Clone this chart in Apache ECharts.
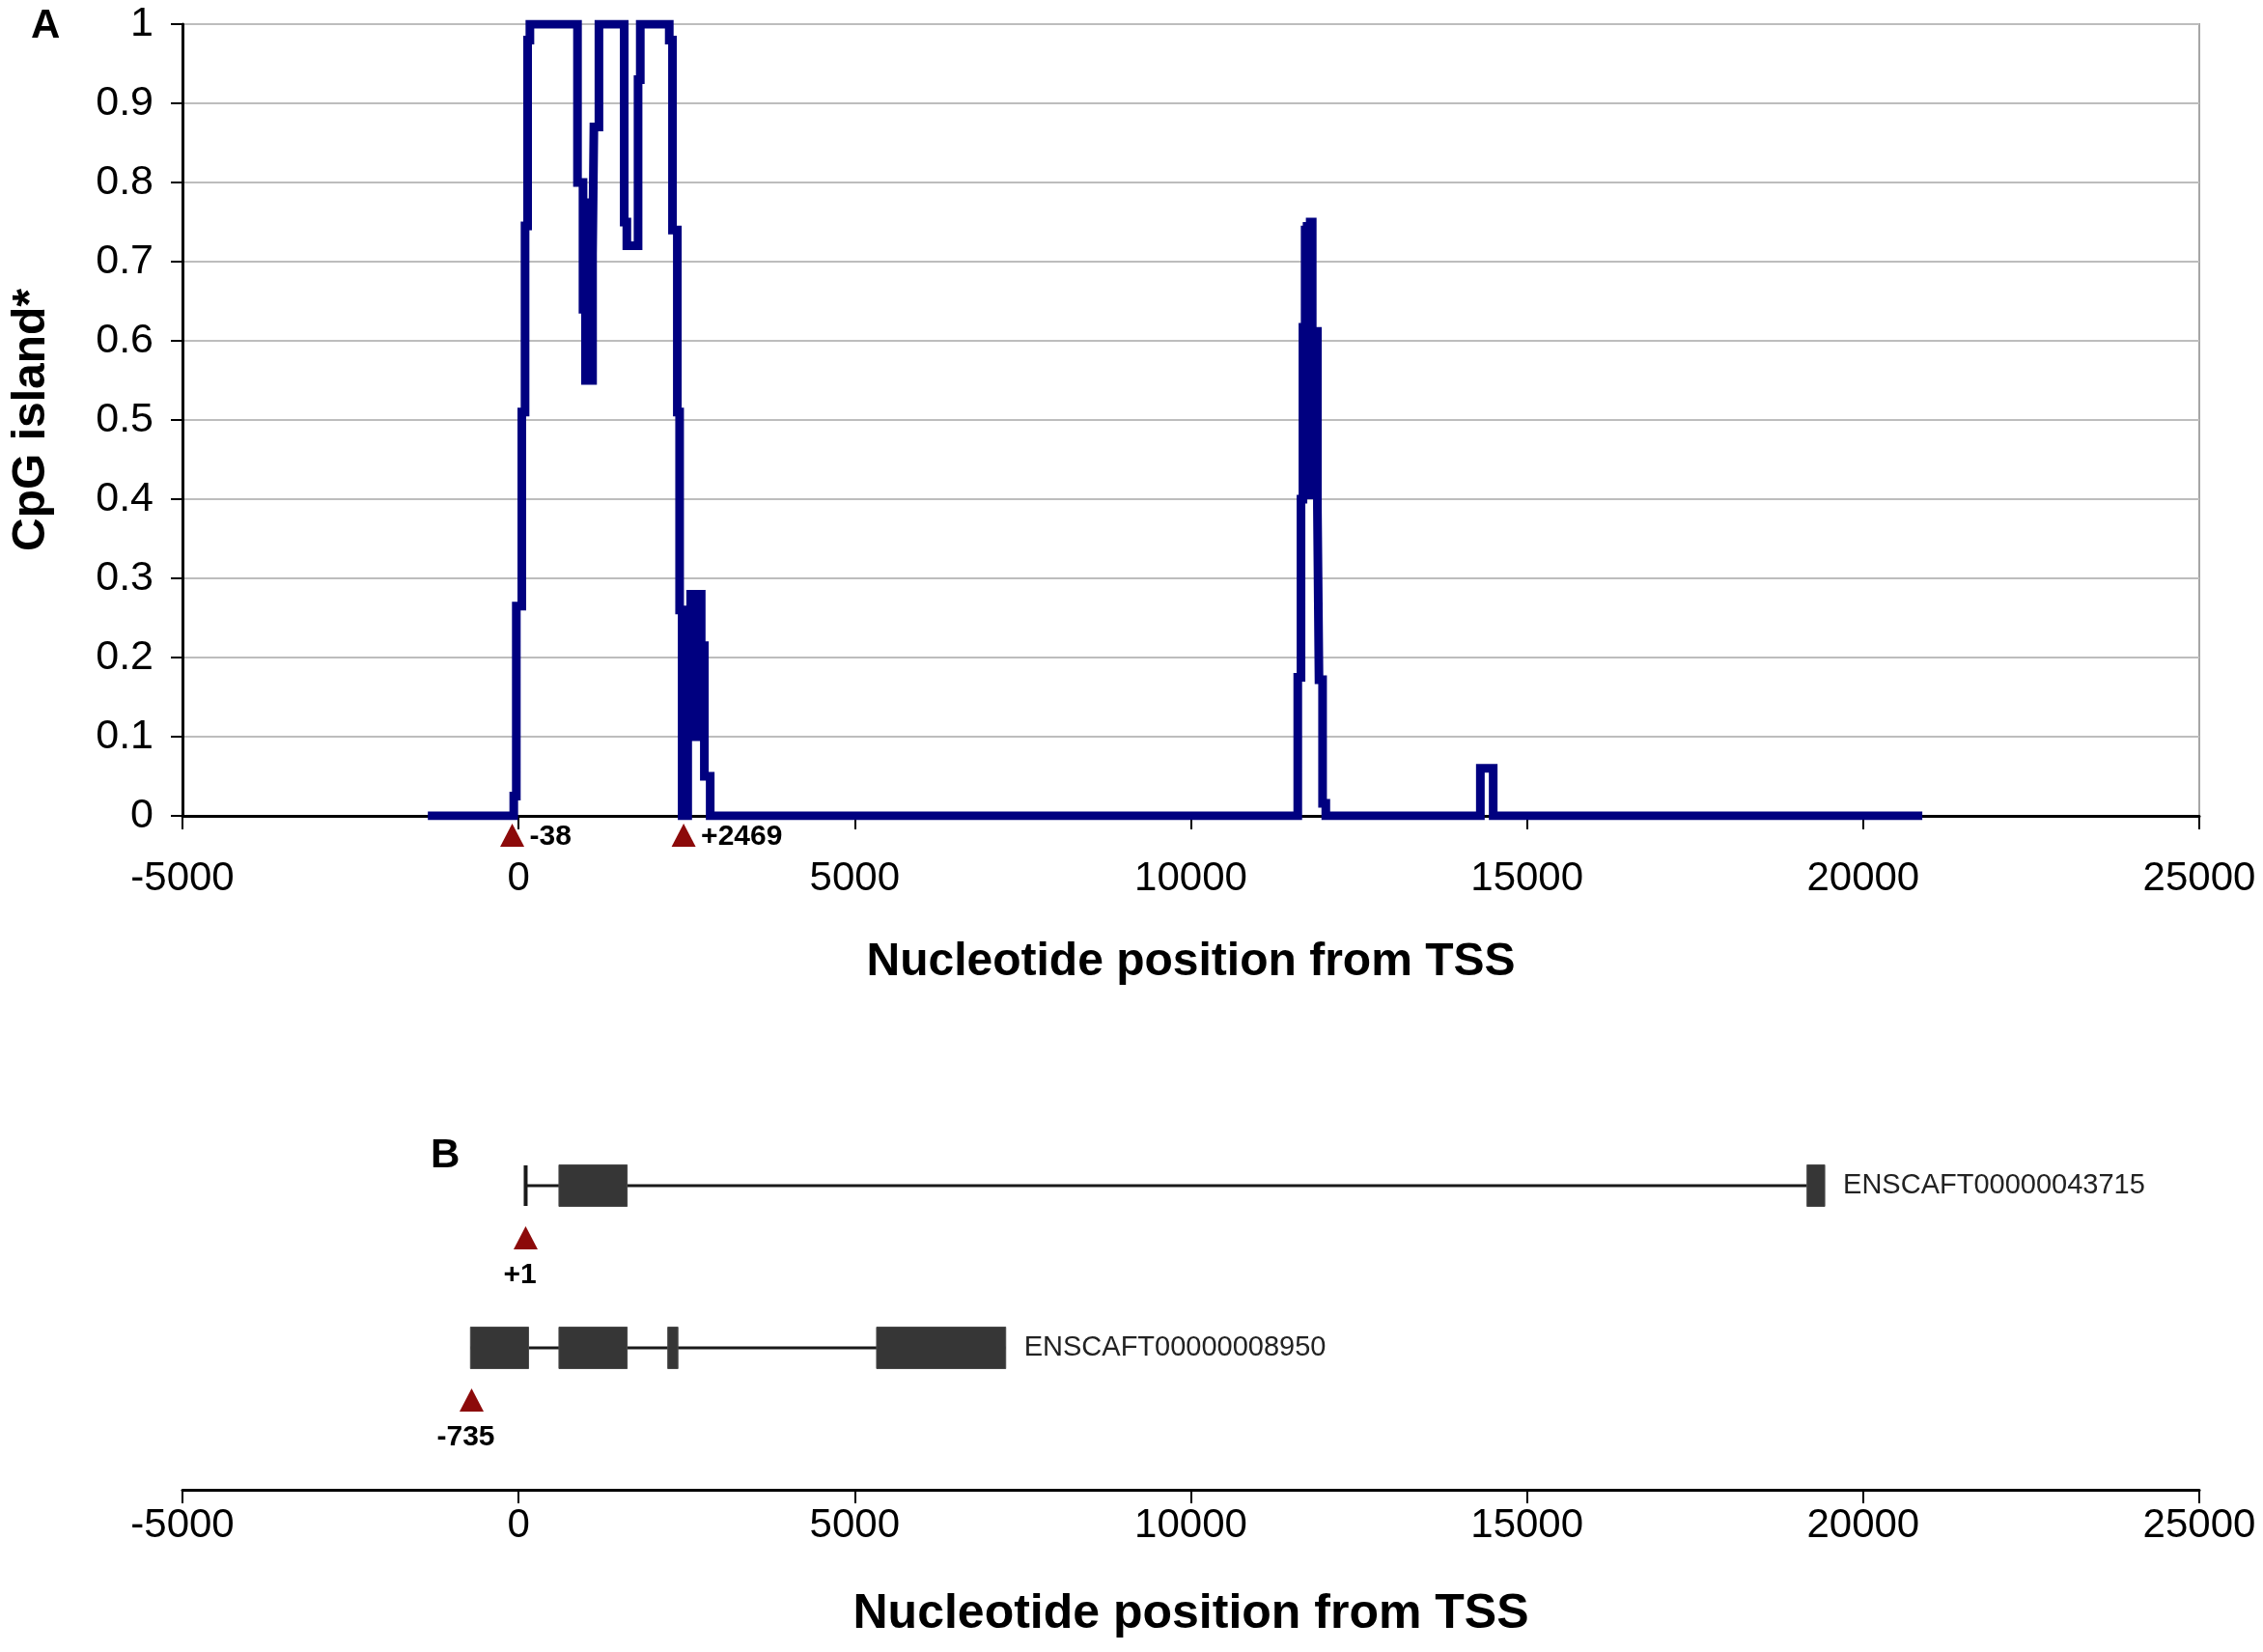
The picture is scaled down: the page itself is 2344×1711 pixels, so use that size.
<!DOCTYPE html>
<html>
<head>
<meta charset="utf-8">
<script src="https://cdn.jsdelivr.net/npm/echarts@6/dist/echarts.min.js"></script>
<style>
  html, body { margin: 0; padding: 0; background: #fff; }
  #main { width: 2344px; height: 1711px; }
</style>
</head>
<body>
<div id="main"></div>
<script>
// panel A: CpG island score along the gene (step profile, value holds from pos until next pos)
var cpgPos = [-1350, -72, -34, 48, 96, 134, 168, 876, 958, 995, 1035, 1060, 1100, 1120, 1195,
              1571, 1610, 1777, 1810, 2241, 2289, 2361, 2395, 2433, 2515, 2560, 2605, 2665,
              2716, 2763, 2850, 11590, 11638, 11667, 11700, 11729, 11755, 11775, 11805,
              11882, 11906, 11959, 12007, 14306, 14497, 20880];
var cpgScore = [0, 0.025, 0.265, 0.51, 0.745, 0.98, 1.0, 0.80, 0.64, 0.55, 0.78, 0.55, 0.71, 0.87, 1.0,
                0.75, 0.72, 0.93, 1.0, 0.98, 0.74, 0.51, 0.26, 0, 0.26, 0.28, 0.10, 0.28,
                0.215, 0.05, 0, 0.175, 0.40, 0.617, 0.74, 0.75, 0.40, 0.75, 0.612,
                0.39, 0.172, 0.016, 0, 0.06, 0, 0];

// primer / TSS markers in panel A
var markPosA = [-95, 2455];
var markTextA = ['-38', '+2469'];

// panel B: transcripts (bottom to top)
var tracks = ['ENSCAFT00000008950', 'ENSCAFT00000043715'];
var exonStart = [600, 19165, -716, 600, 2219, 5325];
var exonEnd   = [1615, 19429, 148, 1615, 2370, 7246];
var exonTrack = [1, 1, 0, 0, 0, 0];
var intronStart = [105, -716];
var intronEnd   = [19165, 7246];
var intronTrack = [1, 0];
var startTickPos = [105];
var startTickTrack = [1];
var markPosB = [105, -699];
var markTextB = ['+1', '-735'];
var markTrackB = [1, 0];
var xTicks = [-5000, 0, 5000, 10000, 15000, 20000, 25000];

var FONT = '"Liberation Sans", Arial, sans-serif';
var RED = '#8c0a0a';

var myChart = echarts.init(document.getElementById('main'), null, { renderer: 'canvas' });

function triangle(cx, top, w, h) {
    return {
        type: 'polygon',
        shape: { points: [[cx, top], [cx - w / 2, top + h], [cx + w / 2, top + h]] },
        style: { fill: RED }
    };
}

function plainNum(v) { return String(v); }

function xAxisBase(gridIndex) {
    return {
        type: 'value',
        gridIndex: gridIndex,
        min: xTicks[0],
        max: xTicks[xTicks.length - 1],
        interval: 5000,
        axisLine: { show: true, onZero: false, lineStyle: { color: '#000', width: 3 } },
        axisTick: { show: true, length: 14, lineStyle: { color: '#000', width: 2 } },
        splitLine: { show: false },
        nameLocation: 'middle'
    };
}

var xA = xAxisBase(0);
xA.axisLabel = { fontSize: 42, color: '#000', fontFamily: FONT, margin: 44, formatter: plainNum };
xA.name = 'Nucleotide position from TSS';
xA.nameGap = 128;
xA.nameTextStyle = { fontSize: 48, fontWeight: 'bold', color: '#000', fontFamily: FONT };

var xB = xAxisBase(1);
xB.offset = 63;
xB.axisLabel = { fontSize: 42, color: '#000', fontFamily: FONT, margin: 16, formatter: plainNum };
xB.name = 'Nucleotide position from TSS';
xB.nameGap = 104;
xB.nameTextStyle = { fontSize: 50, fontWeight: 'bold', color: '#000', fontFamily: FONT };

var option = {
    animation: false,
    backgroundColor: '#fff',
    graphic: [
        { type: 'text', left: 32, top: 6, style: { text: 'A', font: 'bold 42px ' + FONT, fill: '#000' } },
        { type: 'text', left: 446, top: 1176, style: { text: 'B', font: 'bold 42px ' + FONT, fill: '#000' } }
    ],
    grid: [
        { left: 189, right: 66, top: 25, height: 820, show: true, borderColor: '#a6a6a6', borderWidth: 2 },
        { left: 189, right: 66, top: 1144, height: 336 }
    ],
    xAxis: [xA, xB],
    yAxis: [
        {
            type: 'value',
            gridIndex: 0,
            min: 0,
            max: 1,
            interval: 0.1,
            axisLine: { show: true, onZero: false, lineStyle: { color: '#000', width: 3 } },
            axisTick: { show: true, length: 12, lineStyle: { color: '#000', width: 2 } },
            splitLine: { show: true, lineStyle: { color: '#bdbdbd', width: 2 } },
            axisLabel: { fontSize: 43, color: '#000', fontFamily: FONT, margin: 30 },
            name: 'CpG island*',
            nameLocation: 'middle',
            nameGap: 132,
            nameTextStyle: { fontSize: 48, fontWeight: 'bold', color: '#000', fontFamily: FONT }
        },
        {
            type: 'category',
            gridIndex: 1,
            data: tracks,
            show: false
        }
    ],
    series: [
        {
            name: 'CpG island',
            type: 'line',
            xAxisIndex: 0,
            yAxisIndex: 0,
            step: 'end',
            showSymbol: false,
            data: cpgPos.map(function (x, i) { return [x, cpgScore[i]]; }),
            lineStyle: { color: '#000080', width: 9, join: 'miter', cap: 'butt' },
            z: 5
        },
        {
            // markers under panel A axis
            type: 'custom',
            xAxisIndex: 0,
            yAxisIndex: 0,
            data: markPosA.map(function (x, i) { return [x, 0, i]; }),
            renderItem: function (params, api) {
                var p = api.coord([api.value(0), 0]);
                var i = api.value(2);
                return {
                    type: 'group',
                    children: [
                        triangle(p[0], p[1] + 8, 25, 24),
                        {
                            type: 'text',
                            style: {
                                text: markTextA[i], x: p[0] + 18, y: p[1] + 22,
                                font: 'bold 30px ' + FONT, fill: '#000',
                                align: 'left', verticalAlign: 'middle'
                            }
                        }
                    ]
                };
            },
            z: 6
        },
        {
            // intron lines
            type: 'custom',
            xAxisIndex: 1,
            yAxisIndex: 1,
            data: intronStart.map(function (s, i) { return [s, intronEnd[i], intronTrack[i]]; }),
            renderItem: function (params, api) {
                var a = api.coord([api.value(0), api.value(2)]);
                var b = api.coord([api.value(1), api.value(2)]);
                return {
                    type: 'line',
                    shape: { x1: a[0], y1: a[1], x2: b[0], y2: b[1] },
                    style: { stroke: '#1a1a1a', lineWidth: 3 }
                };
            },
            z: 2
        },
        {
            // transcript start tick
            type: 'custom',
            xAxisIndex: 1,
            yAxisIndex: 1,
            data: startTickPos.map(function (s, i) { return [s, startTickTrack[i]]; }),
            renderItem: function (params, api) {
                var a = api.coord([api.value(0), api.value(1)]);
                return {
                    type: 'line',
                    shape: { x1: a[0], y1: a[1] - 21, x2: a[0], y2: a[1] + 21 },
                    style: { stroke: '#1a1a1a', lineWidth: 4 }
                };
            },
            z: 3
        },
        {
            // exons
            type: 'custom',
            xAxisIndex: 1,
            yAxisIndex: 1,
            data: exonStart.map(function (s, i) { return [s, exonEnd[i], exonTrack[i]]; }),
            renderItem: function (params, api) {
                var a = api.coord([api.value(0), api.value(2)]);
                var b = api.coord([api.value(1), api.value(2)]);
                return {
                    type: 'rect',
                    shape: { x: a[0], y: a[1] - 21.5, width: b[0] - a[0], height: 43 },
                    style: { fill: '#363636', stroke: '#4a4a4a', lineWidth: 1 }
                };
            },
            z: 4
        },
        {
            // transcript names
            type: 'custom',
            xAxisIndex: 1,
            yAxisIndex: 1,
            data: [[exonEnd[1], 1], [exonEnd[5], 0]],
            renderItem: function (params, api) {
                var a = api.coord([api.value(0), api.value(1)]);
                return {
                    type: 'text',
                    style: {
                        text: tracks[api.value(1)], x: a[0] + 19, y: a[1],
                        font: '29px ' + FONT, fill: '#222',
                        align: 'left', verticalAlign: 'middle'
                    }
                };
            },
            z: 4
        },
        {
            // TSS markers in panel B
            type: 'custom',
            xAxisIndex: 1,
            yAxisIndex: 1,
            data: markPosB.map(function (x, i) { return [x, markTrackB[i], i]; }),
            renderItem: function (params, api) {
                var a = api.coord([api.value(0), api.value(1)]);
                var i = api.value(2);
                return {
                    type: 'group',
                    children: [
                        triangle(a[0], a[1] + 42, 25, 24),
                        {
                            type: 'text',
                            style: {
                                text: markTextB[i], x: a[0] - 6, y: a[1] + 93,
                                font: 'bold 30px ' + FONT, fill: '#000',
                                align: 'center', verticalAlign: 'middle'
                            }
                        }
                    ]
                };
            },
            z: 4
        }
    ]
};

myChart.setOption(option);
</script>
</body>
</html>
